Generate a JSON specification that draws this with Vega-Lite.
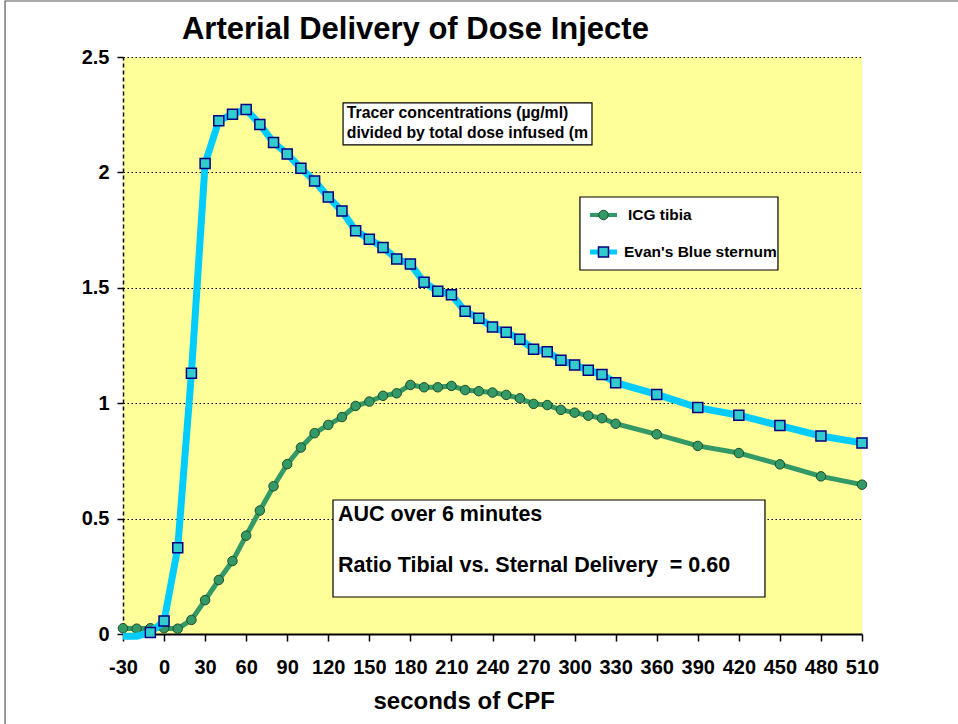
{
  "$schema": "https://vega.github.io/schema/vega-lite/v6.json",
  "width": 739,
  "height": 577,
  "autosize": {"type": "none"},
  "padding": {"left": 123, "top": 57, "right": 96, "bottom": 90},
  "background": "white",
  "config": {"view": {"fill": "#FFFF99", "stroke": null}, "font": "Liberation Sans"},
  "data": {"values": [
    {"t": -30, "series": "ICG tibia", "v": 0.025},
    {"t": -20, "series": "ICG tibia", "v": 0.023},
    {"t": -10, "series": "ICG tibia", "v": 0.025},
    {"t": 0, "series": "ICG tibia", "v": 0.025},
    {"t": 10, "series": "ICG tibia", "v": 0.023},
    {"t": 20, "series": "ICG tibia", "v": 0.061},
    {"t": 30, "series": "ICG tibia", "v": 0.147},
    {"t": 40, "series": "ICG tibia", "v": 0.234},
    {"t": 50, "series": "ICG tibia", "v": 0.316},
    {"t": 60, "series": "ICG tibia", "v": 0.426},
    {"t": 70, "series": "ICG tibia", "v": 0.535},
    {"t": 80, "series": "ICG tibia", "v": 0.64},
    {"t": 90, "series": "ICG tibia", "v": 0.736},
    {"t": 100, "series": "ICG tibia", "v": 0.808},
    {"t": 110, "series": "ICG tibia", "v": 0.87},
    {"t": 120, "series": "ICG tibia", "v": 0.906},
    {"t": 130, "series": "ICG tibia", "v": 0.94},
    {"t": 140, "series": "ICG tibia", "v": 0.988},
    {"t": 150, "series": "ICG tibia", "v": 1.007},
    {"t": 160, "series": "ICG tibia", "v": 1.032},
    {"t": 170, "series": "ICG tibia", "v": 1.043},
    {"t": 180, "series": "ICG tibia", "v": 1.079},
    {"t": 190, "series": "ICG tibia", "v": 1.069},
    {"t": 200, "series": "ICG tibia", "v": 1.069},
    {"t": 210, "series": "ICG tibia", "v": 1.075},
    {"t": 220, "series": "ICG tibia", "v": 1.057},
    {"t": 230, "series": "ICG tibia", "v": 1.052},
    {"t": 240, "series": "ICG tibia", "v": 1.046},
    {"t": 250, "series": "ICG tibia", "v": 1.036},
    {"t": 260, "series": "ICG tibia", "v": 1.021},
    {"t": 270, "series": "ICG tibia", "v": 0.997},
    {"t": 280, "series": "ICG tibia", "v": 0.992},
    {"t": 290, "series": "ICG tibia", "v": 0.971},
    {"t": 300, "series": "ICG tibia", "v": 0.959},
    {"t": 310, "series": "ICG tibia", "v": 0.946},
    {"t": 320, "series": "ICG tibia", "v": 0.935},
    {"t": 330, "series": "ICG tibia", "v": 0.911},
    {"t": 360, "series": "ICG tibia", "v": 0.865},
    {"t": 390, "series": "ICG tibia", "v": 0.815},
    {"t": 420, "series": "ICG tibia", "v": 0.784},
    {"t": 450, "series": "ICG tibia", "v": 0.735},
    {"t": 480, "series": "ICG tibia", "v": 0.683},
    {"t": 510, "series": "ICG tibia", "v": 0.647},
    {"t": -30, "series": "Evan's Blue sternum", "v": -0.01},
    {"t": -20, "series": "Evan's Blue sternum", "v": -0.01},
    {"t": -10, "series": "Evan's Blue sternum", "v": 0.007},
    {"t": 0, "series": "Evan's Blue sternum", "v": 0.056},
    {"t": 10, "series": "Evan's Blue sternum", "v": 0.374},
    {"t": 20, "series": "Evan's Blue sternum", "v": 1.13},
    {"t": 30, "series": "Evan's Blue sternum", "v": 2.039},
    {"t": 40, "series": "Evan's Blue sternum", "v": 2.224},
    {"t": 50, "series": "Evan's Blue sternum", "v": 2.252},
    {"t": 60, "series": "Evan's Blue sternum", "v": 2.273},
    {"t": 70, "series": "Evan's Blue sternum", "v": 2.208},
    {"t": 80, "series": "Evan's Blue sternum", "v": 2.13},
    {"t": 90, "series": "Evan's Blue sternum", "v": 2.08},
    {"t": 100, "series": "Evan's Blue sternum", "v": 2.018},
    {"t": 110, "series": "Evan's Blue sternum", "v": 1.963},
    {"t": 120, "series": "Evan's Blue sternum", "v": 1.893},
    {"t": 130, "series": "Evan's Blue sternum", "v": 1.833},
    {"t": 140, "series": "Evan's Blue sternum", "v": 1.747},
    {"t": 150, "series": "Evan's Blue sternum", "v": 1.71},
    {"t": 160, "series": "Evan's Blue sternum", "v": 1.675},
    {"t": 170, "series": "Evan's Blue sternum", "v": 1.625},
    {"t": 180, "series": "Evan's Blue sternum", "v": 1.603},
    {"t": 190, "series": "Evan's Blue sternum", "v": 1.524},
    {"t": 200, "series": "Evan's Blue sternum", "v": 1.485},
    {"t": 210, "series": "Evan's Blue sternum", "v": 1.47},
    {"t": 220, "series": "Evan's Blue sternum", "v": 1.398},
    {"t": 230, "series": "Evan's Blue sternum", "v": 1.368},
    {"t": 240, "series": "Evan's Blue sternum", "v": 1.33},
    {"t": 250, "series": "Evan's Blue sternum", "v": 1.307},
    {"t": 260, "series": "Evan's Blue sternum", "v": 1.277},
    {"t": 270, "series": "Evan's Blue sternum", "v": 1.234},
    {"t": 280, "series": "Evan's Blue sternum", "v": 1.223},
    {"t": 290, "series": "Evan's Blue sternum", "v": 1.186},
    {"t": 300, "series": "Evan's Blue sternum", "v": 1.166},
    {"t": 310, "series": "Evan's Blue sternum", "v": 1.143},
    {"t": 320, "series": "Evan's Blue sternum", "v": 1.124},
    {"t": 330, "series": "Evan's Blue sternum", "v": 1.089},
    {"t": 360, "series": "Evan's Blue sternum", "v": 1.038},
    {"t": 390, "series": "Evan's Blue sternum", "v": 0.981},
    {"t": 420, "series": "Evan's Blue sternum", "v": 0.948},
    {"t": 450, "series": "Evan's Blue sternum", "v": 0.903},
    {"t": 480, "series": "Evan's Blue sternum", "v": 0.858},
    {"t": 510, "series": "Evan's Blue sternum", "v": 0.828}
  ]},
  "layer": [
    {
      "data": {"values": [{}]},
      "mark": {"type": "rect", "filled": false, "stroke": "#555555", "strokeWidth": 1.2},
      "encoding": {
        "x": {"datum": -116.2, "type": "quantitative"},
        "x2": {"datum": 1000},
        "y": {"datum": 2.7426, "type": "quantitative"},
        "y2": {"datum": -1}
      }
    },
    {
      "data": {"values": [{"label": "Arterial Delivery of Dose Injecte"}]},
      "mark": {"type": "text", "align": "left", "baseline": "alphabetic", "font": "Liberation Sans", "fontWeight": "bold", "fontSize": 31, "color": "black"},
      "encoding": {
        "x": {"datum": 13.1, "type": "quantitative"},
        "y": {"datum": 2.578, "type": "quantitative"},
        "text": {"field": "label"}
      }
    },
    {
      "transform": [{"filter": "datum.series === 'ICG tibia'"}],
      "mark": {"type": "line", "color": "#339966", "strokeWidth": 5},
      "encoding": {
        "x": {"field": "t", "type": "quantitative", "scale": {"domain": [-30, 510], "zero": false, "nice": false},
          "axis": {"values": [-30, 0, 30, 60, 90, 120, 150, 180, 210, 240, 270, 300, 330, 360, 390, 420, 450, 480, 510],
            "labelExpr": "'' + datum.value",
            "grid": false, "domainColor": "black", "domainWidth": 2, "tickColor": "black", "tickSize": 7, "tickWidth": 1.5,
            "labelFontSize": 20, "labelFontWeight": "bold", "labelColor": "black", "labelPadding": 32, "labelBaseline": "alphabetic", "labelFont": "Liberation Sans",
            "labelFlush": false, "labelOverlap": false,
            "title": "seconds of CPF", "titleFontSize": 24, "titleFontWeight": "bold", "titleColor": "black", "titleFont": "Liberation Sans",
            "titleX": 250, "titleY": 74, "titleBaseline": "alphabetic", "titleAlign": "left", "titleAnchor": null}},
        "y": {"field": "v", "type": "quantitative", "scale": {"domain": [0, 2.5], "nice": false},
          "axis": {"values": [0, 0.5, 1, 1.5, 2, 2.5], "format": "~g", "grid": true, "gridDash": [1.5, 2.5], "gridColor": "black", "gridWidth": 1,
            "domainDash": [4, 3], "domainColor": "black", "domainWidth": 1.5, "tickSize": 6, "tickColor": "black", "tickWidth": 1.5,
            "labelFontSize": 20, "labelFontWeight": "bold", "labelColor": "black", "labelPadding": 8, "labelFont": "Liberation Sans", "title": null}}
      }
    },
    {
      "transform": [{"filter": "datum.series === 'ICG tibia'"}],
      "mark": {"type": "point", "shape": "circle", "filled": true, "fill": "#339966", "stroke": "#1E4D2B", "strokeWidth": 1, "size": 90, "opacity": 1},
      "encoding": {
        "x": {"field": "t", "type": "quantitative"},
        "y": {"field": "v", "type": "quantitative"}
      }
    },
    {
      "transform": [{"filter": "datum.series === \"Evan's Blue sternum\""}],
      "mark": {"type": "line", "color": "#00CCFF", "strokeWidth": 7},
      "encoding": {
        "x": {"field": "t", "type": "quantitative"},
        "y": {"field": "v", "type": "quantitative"}
      }
    },
    {
      "transform": [{"filter": "datum.series === \"Evan's Blue sternum\" && datum.v >= 0"}],
      "mark": {"type": "point", "shape": "square", "filled": true, "fill": "#33CCCC", "stroke": "#000080", "strokeWidth": 1.5, "size": 100, "opacity": 1},
      "encoding": {
        "x": {"field": "t", "type": "quantitative"},
        "y": {"field": "v", "type": "quantitative"}
      }
    },
    {
      "data": {"values": [{}]},
      "mark": {"type": "rect", "fill": "white", "stroke": "black", "strokeWidth": 1.2},
      "encoding": {
        "x": {"datum": 130.8, "type": "quantitative"},
        "x2": {"datum": 312.7},
        "y": {"datum": 2.301, "type": "quantitative"},
        "y2": {"datum": 2.119}
      }
    },
    {
      "data": {"values": [{"label": "Tracer concentrations (µg/ml)"}]},
      "mark": {"type": "text", "align": "left", "baseline": "middle", "font": "Liberation Sans", "fontWeight": "bold", "fontSize": 15.8, "color": "black"},
      "encoding": {
        "x": {"datum": 133.5, "type": "quantitative"},
        "y": {"datum": 2.257, "type": "quantitative"},
        "text": {"field": "label"}
      }
    },
    {
      "data": {"values": [{"label": "divided by total dose infused (m"}]},
      "mark": {"type": "text", "align": "left", "baseline": "middle", "font": "Liberation Sans", "fontWeight": "bold", "fontSize": 15.8, "color": "black", "limit": 246, "ellipsis": ""},
      "encoding": {
        "x": {"datum": 133.5, "type": "quantitative"},
        "y": {"datum": 2.171, "type": "quantitative"},
        "text": {"field": "label"}
      }
    },
    {
      "data": {"values": [{}]},
      "mark": {"type": "rect", "fill": "white", "stroke": "black", "strokeWidth": 1.2},
      "encoding": {
        "x": {"datum": 123.45, "type": "quantitative"},
        "x2": {"datum": 439.1},
        "y": {"datum": 0.5806, "type": "quantitative"},
        "y2": {"datum": 0.1603}
      }
    },
    {
      "data": {"values": [{"label": "AUC over 6 minutes"}]},
      "mark": {"type": "text", "align": "left", "baseline": "middle", "font": "Liberation Sans", "fontWeight": "bold", "fontSize": 21.5, "color": "black"},
      "encoding": {
        "x": {"datum": 127.1, "type": "quantitative"},
        "y": {"datum": 0.5156, "type": "quantitative"},
        "text": {"field": "label"}
      }
    },
    {
      "data": {"values": [{"label": "Ratio Tibial vs. Sternal Delivery \u00a0= 0.60"}]},
      "mark": {"type": "text", "align": "left", "baseline": "middle", "font": "Liberation Sans", "fontWeight": "bold", "fontSize": 21.5, "color": "black"},
      "encoding": {
        "x": {"datum": 127.1, "type": "quantitative"},
        "y": {"datum": 0.2946, "type": "quantitative"},
        "text": {"field": "label"}
      }
    },
    {
      "data": {"values": [{}]},
      "mark": {"type": "rect", "fill": "white", "stroke": "black", "strokeWidth": 1.2},
      "encoding": {
        "x": {"datum": 303.9, "type": "quantitative"},
        "x2": {"datum": 448.6},
        "y": {"datum": 1.8934, "type": "quantitative"},
        "y2": {"datum": 1.5771}
      }
    },
    {
      "data": {"values": [{}]},
      "mark": {"type": "rule", "color": "#339966", "strokeWidth": 4},
      "encoding": {
        "x": {"datum": 311.2, "type": "quantitative"},
        "x2": {"datum": 331},
        "y": {"datum": 1.8154, "type": "quantitative"}
      }
    },
    {
      "data": {"values": [{}]},
      "mark": {"type": "point", "shape": "circle", "filled": true, "fill": "#339966", "stroke": "#1E4D2B", "strokeWidth": 1, "size": 90, "opacity": 1},
      "encoding": {
        "x": {"datum": 321.1, "type": "quantitative"},
        "y": {"datum": 1.8154, "type": "quantitative"}
      }
    },
    {
      "data": {"values": [{"label": "ICG tibia"}]},
      "mark": {"type": "text", "align": "left", "baseline": "middle", "font": "Liberation Sans", "fontWeight": "bold", "fontSize": 15.5, "color": "black"},
      "encoding": {
        "x": {"datum": 339, "type": "quantitative"},
        "y": {"datum": 1.8154, "type": "quantitative"},
        "text": {"field": "label"}
      }
    },
    {
      "data": {"values": [{}]},
      "mark": {"type": "rule", "color": "#00CCFF", "strokeWidth": 5},
      "encoding": {
        "x": {"datum": 311.2, "type": "quantitative"},
        "x2": {"datum": 331},
        "y": {"datum": 1.6551, "type": "quantitative"}
      }
    },
    {
      "data": {"values": [{}]},
      "mark": {"type": "point", "shape": "square", "filled": true, "fill": "#33CCCC", "stroke": "#000080", "strokeWidth": 1.5, "size": 100, "opacity": 1},
      "encoding": {
        "x": {"datum": 321.1, "type": "quantitative"},
        "y": {"datum": 1.6551, "type": "quantitative"}
      }
    },
    {
      "data": {"values": [{"label": "Evan's Blue sternum"}]},
      "mark": {"type": "text", "align": "left", "baseline": "middle", "font": "Liberation Sans", "fontWeight": "bold", "fontSize": 15.5, "color": "black", "limit": 155, "ellipsis": ""},
      "encoding": {
        "x": {"datum": 336.1, "type": "quantitative"},
        "y": {"datum": 1.6551, "type": "quantitative"},
        "text": {"field": "label"}
      }
    }
  ]
}
